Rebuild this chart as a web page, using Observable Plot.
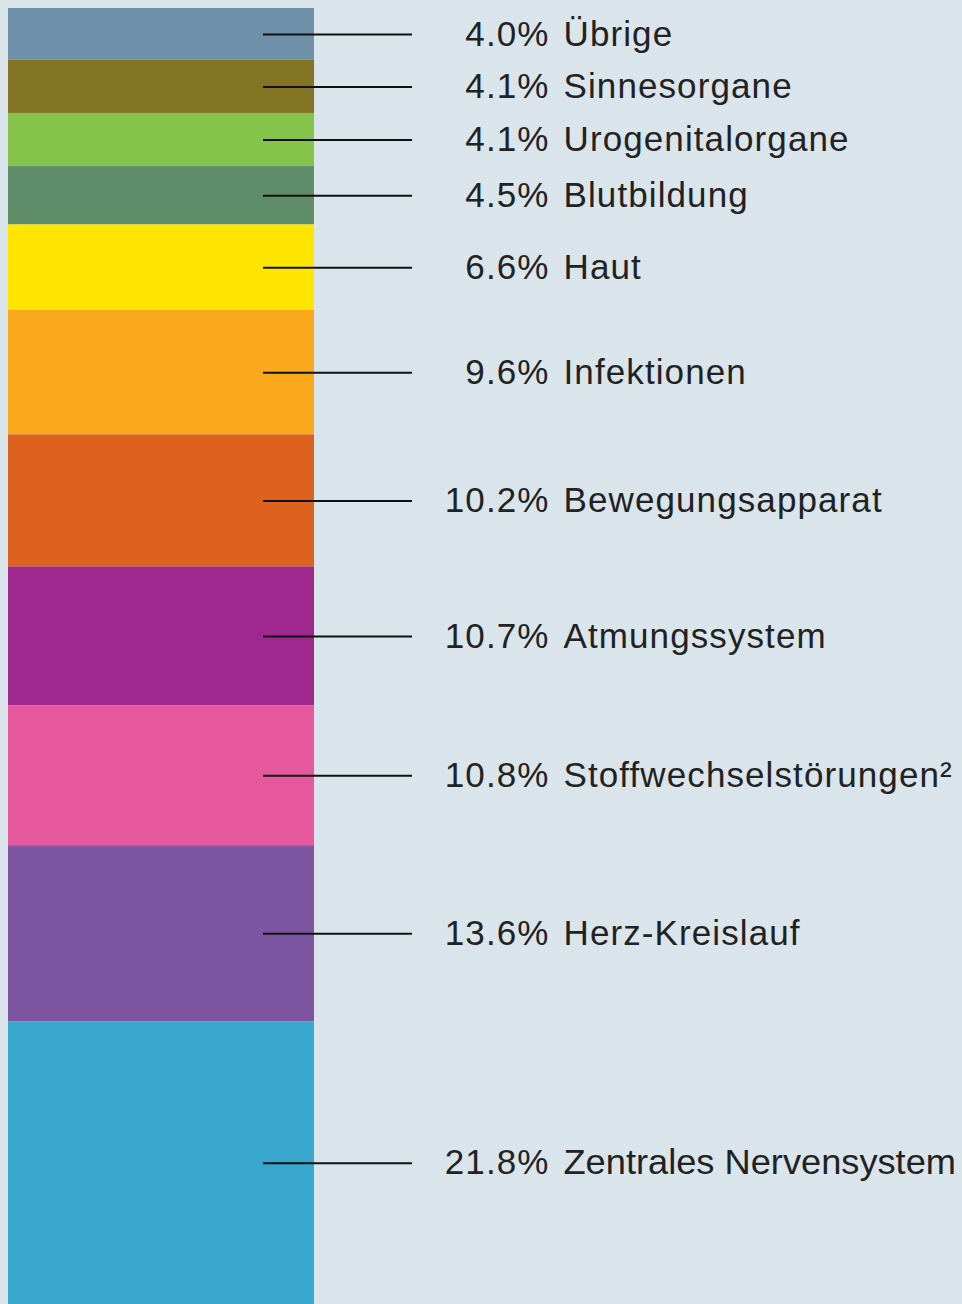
<!DOCTYPE html>
<html>
<head>
<meta charset="utf-8">
<script src="https://cdn.jsdelivr.net/npm/d3@7"></script>
<script src="https://cdn.jsdelivr.net/npm/@observablehq/plot@0.6"></script>
<style>
  html, body { margin: 0; padding: 0; background: #dae4eb; }
  #chart svg { display: block; }
</style>
</head>
<body>
<div id="chart"></div>
<script>
// Data (top of bar to bottom)
const categories = [
  "Übrige", "Sinnesorgane", "Urogenitalorgane", "Blutbildung", "Haut",
  "Infektionen", "Bewegungsapparat", "Atmungssystem", "Stoffwechselstörungen²",
  "Herz-Kreislauf", "Zentrales Nervensystem"
];
const shares = [4.0, 4.1, 4.1, 4.5, 6.6, 9.6, 10.2, 10.7, 10.8, 13.6, 21.8];
const palette = [
  "#6e90a8", "#837523", "#85c44b", "#5f8c69", "#ffe500",
  "#f9a91b", "#dd621e", "#9e288e", "#e6589e", "#7d55a1", "#37a8cb"
];

const ends = d3.cumsum(shares);
const rows = categories.map((c, i) => ({
  category: c,
  value: shares[i],
  y1: ends[i] - shares[i],
  y2: ends[i],
  mid: ends[i] - shares[i] / 2
}));
const fmt = d3.format(".1f");

const W = 962, H = 1304;
const chart = Plot.plot({
  width: W,
  height: H,
  marginTop: 8,
  marginBottom: 0,
  marginLeft: 8,
  marginRight: 0,
  style: { background: "#dae4eb", fontFamily: "'Liberation Sans', Arial, sans-serif", letterSpacing: "1.1px", color: "#222" },
  x: { domain: [0, 954], axis: null },
  y: { domain: [0, 100], range: [8, H], axis: null },
  color: { domain: categories, range: palette },
  marks: [
    Plot.rect(rows, { x1: 0, x2: 306, y1: "y1", y2: "y2", fill: "category" }),
    Plot.ruleY(rows, { y: "mid", x1: 255, x2: 404, stroke: "#111", strokeWidth: 2 }),
    Plot.text(rows, { x: 541, y: "mid", text: d => fmt(d.value) + "%", textAnchor: "end", fontSize: 35, fill: "#222" }),
    Plot.text(rows, { x: 555, y: "mid", text: "category", textAnchor: "start", fontSize: 35, fill: "#222" })
  ]
});
document.getElementById("chart").appendChild(chart);

// Condense labels that would run past the right edge (as in the original)
const limit = W - 6;
chart.querySelectorAll("text").forEach(t => {
  if (!categories.includes(t.textContent)) return;
  const r = t.getBoundingClientRect();
  if (r.right > limit) {
    t.style.letterSpacing = "0px";
    const r2 = t.getBoundingClientRect();
    t.setAttribute("textLength", limit - r2.left);
    t.setAttribute("lengthAdjust", "spacingAndGlyphs");
  }
});
</script>
</body>
</html>
